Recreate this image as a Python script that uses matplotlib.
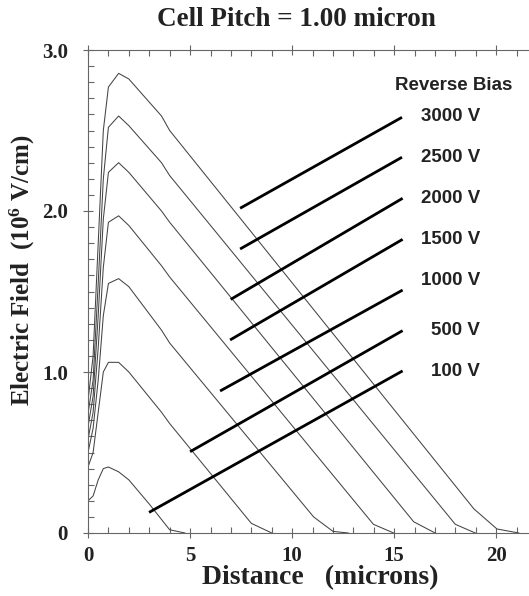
import numpy as np
import matplotlib
matplotlib.use("Agg")
import matplotlib.pyplot as plt

plt.rcParams['mathtext.default'] = 'regular'

# electric field profiles, one per reverse bias (x in microns, E in 1e6 V/cm)
bias_labels = ["3000 V", "2500 V", "2000 V", "1500 V", "1000 V", "500 V", "100 V"]

x_100 = [0, 0.25, 0.5, 0.75, 1.0, 1.5, 2.0, 3.0, 4.0, 4.75]
e_100 = [0.20, 0.23, 0.33, 0.40, 0.41, 0.38, 0.33, 0.18, 0.02, 0.0]

x_500 = [0, 0.25, 0.5, 0.75, 1.0, 1.5, 2.0, 3.6, 4.0, 8.0, 9.0]
e_500 = [0.41, 0.50, 0.75, 1.00, 1.06, 1.06, 1.00, 0.75, 0.68, 0.06, 0.0]

x_1000 = [0, 0.25, 0.5, 0.75, 1.0, 1.5, 2.0, 3.6, 4.0, 11.05, 12.0, 12.75]
e_1000 = [0.50, 0.65, 0.95, 1.35, 1.55, 1.58, 1.53, 1.26, 1.18, 0.10, 0.01, 0.0]

x_1500 = [0, 0.25, 0.5, 0.75, 1.0, 1.5, 2.0, 3.6, 4.0, 13.98, 14.97]
e_1500 = [0.58, 0.75, 1.15, 1.65, 1.93, 1.97, 1.91, 1.66, 1.59, 0.054, 0.0]

x_2000 = [0, 0.25, 0.5, 0.75, 1.0, 1.5, 2.0, 3.6, 4.0, 15.95, 17.0]
e_2000 = [0.66, 0.85, 1.35, 1.95, 2.24, 2.30, 2.24, 2.00, 1.93, 0.07, 0.0]

x_2500 = [0, 0.25, 0.5, 0.75, 1.0, 1.5, 2.0, 3.6, 4.0, 17.99, 18.97]
e_2500 = [0.74, 0.95, 1.55, 2.20, 2.52, 2.59, 2.53, 2.30, 2.22, 0.054, 0.0]

x_3000 = [0, 0.25, 0.5, 0.75, 1.0, 1.5, 2.0, 3.6, 4.0, 18.9, 20.03, 21.1]
e_3000 = [0.82, 1.10, 1.80, 2.50, 2.77, 2.855, 2.82, 2.59, 2.50, 0.15, 0.025, 0.0]

curves = [(x_100, e_100), (x_500, e_500), (x_1000, e_1000), (x_1500, e_1500),
          (x_2000, e_2000), (x_2500, e_2500), (x_3000, e_3000)]

# pointer lines from label to curve (start x, start y, end x, end y)
ptr_x0 = [7.45, 7.45, 6.99, 6.96, 6.47, 5.00, 2.99]
ptr_y0 = [2.017, 1.764, 1.451, 1.199, 0.882, 0.505, 0.128]
ptr_x1 = [15.38, 15.38, 15.41, 15.41, 15.41, 15.41, 15.41]
ptr_y1 = [2.582, 2.334, 2.079, 1.824, 1.509, 1.257, 1.007]
label_y = [2.584, 2.330, 2.075, 1.820, 1.568, 1.258, 1.005]

fig = plt.figure(figsize=(5.29, 5.96), dpi=100)
ax = fig.add_axes([88 / 529, 63 / 596, 441 / 529, 483 / 596])

for xs, es in curves:
    ax.plot(xs, es, color='#444444', lw=0.75)

for i in range(len(bias_labels)):
    ax.plot([ptr_x0[i], ptr_x1[i]], [ptr_y0[i], ptr_y1[i]], color='black', lw=2.0,
            solid_capstyle='butt')
    ax.text(19.2, label_y[i], bias_labels[i], ha='right', va='center',
            family='Liberation Sans', fontweight='bold', fontsize=13.5, color='#222222')

ax.text(20.8, 2.78, "Reverse Bias", ha='right', va='center',
        family='Liberation Sans', fontweight='bold', fontsize=13.5, color='#222222')

ax.set_xlim(0, 21.6)
ax.set_ylim(0, 3.0)
ax.set_xticks([0, 5, 10, 15, 20])
ax.set_xticks(np.arange(0, 22, 1), minor=True)
ax.set_yticks([0, 1.0, 2.0, 3.0])
ax.set_yticklabels(["0", "1.0", "2.0", "3.0"])
ax.set_yticks(np.arange(0, 3.01, 0.1), minor=True)

for lab in ax.get_xticklabels() + ax.get_yticklabels():
    lab.set_family('Liberation Serif')
    lab.set_fontweight('bold')
    lab.set_fontsize(15)
    lab.set_color('#222222')

ax.tick_params(which='major', direction='inout', length=7, width=0.8, color='#666666',
               top=True, pad=6)
ax.tick_params(which='minor', direction='in', length=4, width=0.8, color='#666666',
               top=True)
ax.tick_params(axis='y', pad=11)
ax.spines['right'].set_visible(False)
for s in ['left', 'bottom', 'top']:
    ax.spines[s].set_color('#666666')
    ax.spines[s].set_linewidth(0.8)

fig.text(296 / 529, 1 - 19 / 596, "Cell Pitch = 1.00 micron", ha='center', va='center',
         family='Liberation Serif', fontweight='bold', fontsize=19.5, color='#222222')
fig.text(320 / 529, 1 - 578 / 596, "Distance   (microns)", ha='center', va='center',
         family='Liberation Serif', fontweight='bold', fontsize=20, color='#222222')
fig.text(22 / 529, 1 - 270 / 596, "Electric Field  (10$^{6}$ V/cm)", ha='center',
         va='center', rotation=90, family='Liberation Serif', fontweight='bold',
         fontsize=18, color='#222222')

fig.savefig("out.png", dpi=100)
